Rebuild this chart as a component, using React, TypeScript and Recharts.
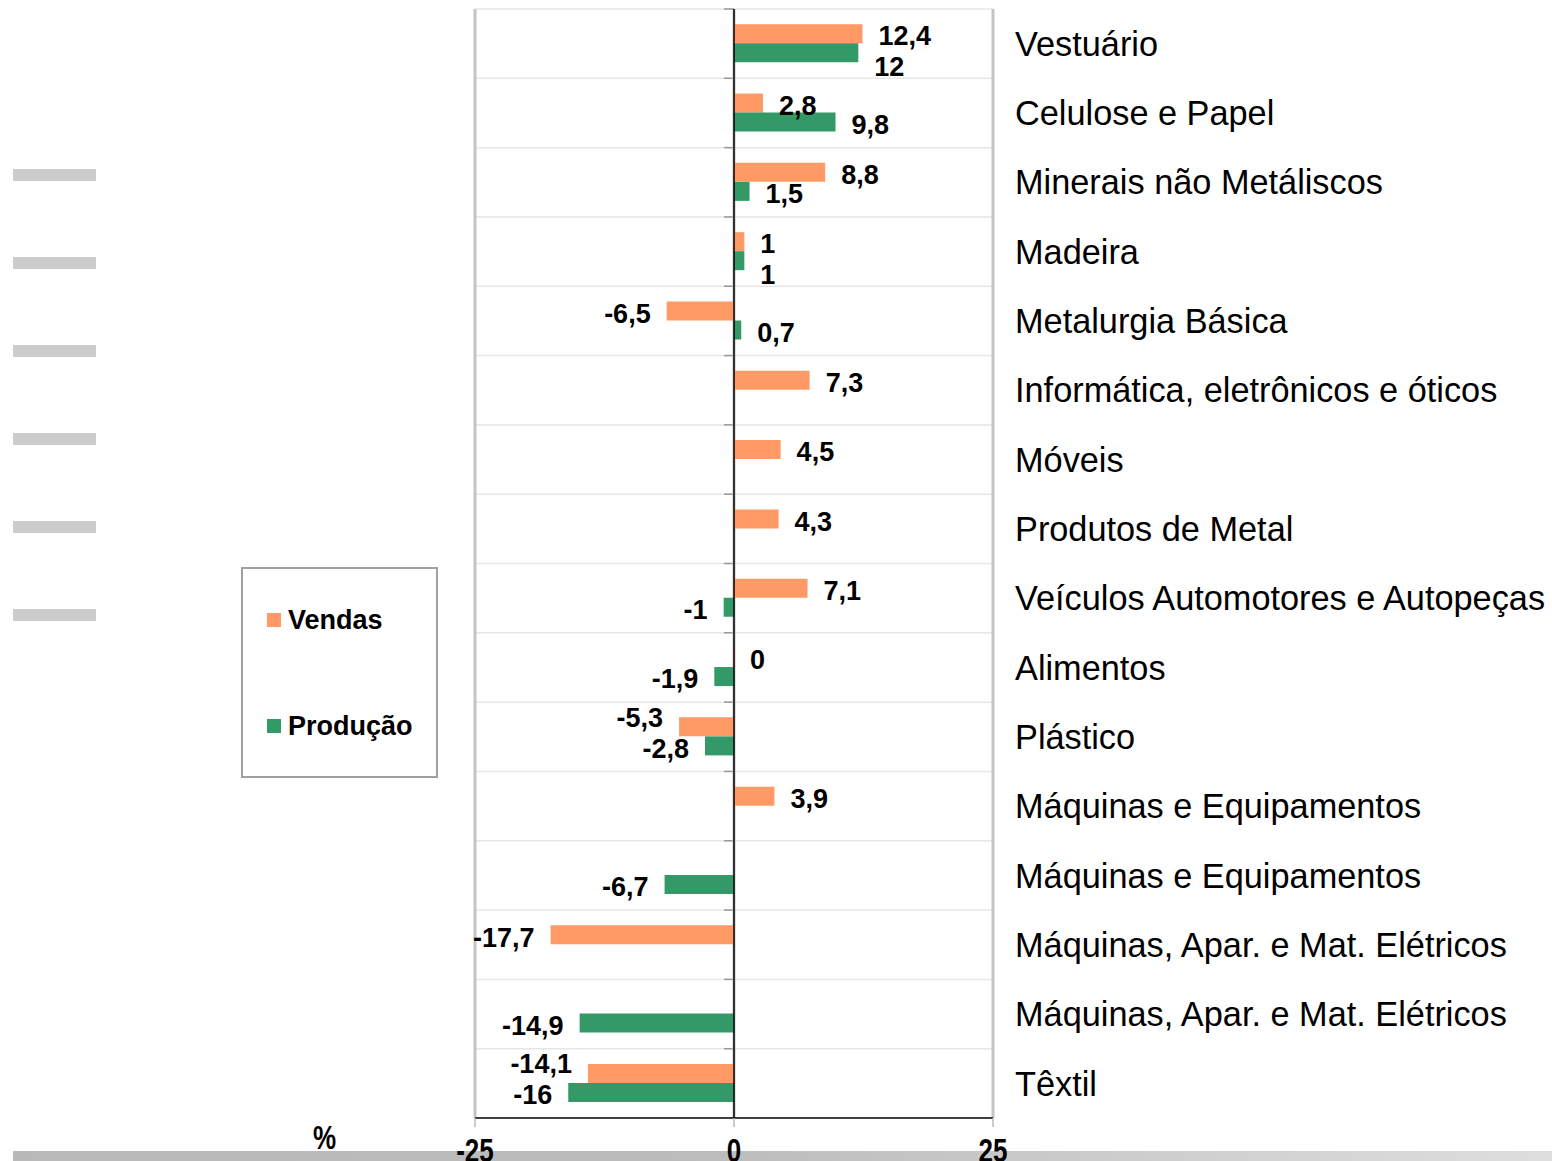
import React from 'react'
import { BarChart, Bar, XAxis, YAxis, CartesianGrid, ReferenceLine, LabelList } from 'recharts'

const categories = [
  'Vestuário',
  'Celulose e Papel',
  'Minerais não Metáliscos',
  'Madeira',
  'Metalurgia Básica',
  'Informática, eletrônicos e óticos',
  'Móveis',
  'Produtos de Metal',
  'Veículos Automotores e Autopeças',
  'Alimentos',
  'Plástico',
  'Máquinas e Equipamentos',
  'Máquinas e Equipamentos',
  'Máquinas, Apar. e Mat. Elétricos',
  'Máquinas, Apar. e Mat. Elétricos',
  'Têxtil',
]

const vendas = [12.4, 2.8, 8.8, 1, -6.5, 7.3, 4.5, 4.3, 7.1, 0, -5.3, 3.9, null, -17.7, null, -14.1]
const producao = [12, 9.8, 1.5, 1, 0.7, null, null, null, -1, -1.9, -2.8, null, -6.7, null, -14.9, -16]

const xTicks = [-25, 0, 25]
const X_MIN = -25
const X_MAX = 25

const series = [
  { key: 'vendas', name: 'Vendas', color: '#FF9966', values: vendas },
  { key: 'producao', name: 'Produção', color: '#339966', values: producao },
]

const fmt = (v: number | null) => (v === null ? null : String(v).replace('.', ','))

const data = categories.map((name, i) => ({
  id: `c${i}`,
  name,
  vendas: vendas[i],
  producao: producao[i],
  vendasLabel: fmt(vendas[i]),
  producaoLabel: fmt(producao[i]),
}))

const FONT = '"Liberation Sans", Arial, sans-serif'
const LABEL_SIZE = 27
const LABEL_GAP = 16

const CHART_W = 1552
const CHART_H = 1161
const MARGIN_TOP = 9
const MARGIN_LEFT = 475
const X_AXIS_H = 43
const Y_AXIS_W = 559
const PX_PER_UNIT = (CHART_W - MARGIN_LEFT - Y_AXIS_W) / (X_MAX - X_MIN)
const BAND_H = (CHART_H - MARGIN_TOP - X_AXIS_H) / categories.length

let ctx: CanvasRenderingContext2D | null = null
function textWidth(s: string) {
  if (!ctx) ctx = document.createElement('canvas').getContext('2d')
  if (!ctx) return s.length * LABEL_SIZE * 0.55
  ctx.font = `bold ${LABEL_SIZE}px ${FONT}`
  return ctx.measureText(s).width
}

function labelSpan(v: number) {
  const w = textWidth(fmt(v) as string)
  const end = v * PX_PER_UNIT
  return v < 0 ? [end - LABEL_GAP - w, end - LABEL_GAP] : [end + LABEL_GAP, end + LABEL_GAP + w]
}

// nudge one label of a row away from the other when both labels would collide
function labelShift(i: number, key: string) {
  const a = vendas[i]
  const b = producao[i]
  if (a == null || b == null) return 0
  if (a < 0 !== b < 0) return 0
  const [a0, a1] = labelSpan(a)
  const [b0, b1] = labelSpan(b)
  const overlap = a0 < b1 + 4 && b0 < a1 + 4
  if (!overlap) return 0
  if (a >= 0) return key === 'producao' ? 12 : 0
  return key === 'vendas' ? -12 : 0
}

function ValueLabel(props: any) {
  const { value, sKey } = props
  if (value === null || value === undefined) return null
  const vb = props.viewBox || {}
  const x = props.x ?? vb.x
  const y = props.y ?? vb.y
  const width = props.width ?? vb.width ?? 0
  const height = props.height ?? vb.height ?? 0
  const left = Math.min(x, x + width)
  const right = Math.max(x, x + width)
  const neg = String(value).startsWith('-')
  const cy = y + height / 2
  const row = Math.floor((cy - MARGIN_TOP) / BAND_H)
  const zeroBar = value === '0'
  return (
    <text
      x={neg ? left - LABEL_GAP : (zeroBar ? left : right) + LABEL_GAP}
      y={cy + 2 + labelShift(row, sKey)}
      dy="0.36em"
      textAnchor={neg ? 'end' : 'start'}
      fontSize={LABEL_SIZE}
      fontWeight="bold"
      fontFamily={FONT}
      fill="#000"
    >
      {value}
    </text>
  )
}

function XTick({ x, y, payload }: any) {
  return (
    <g transform={`translate(${x},${y})`}>
      <text
        x={0}
        y={0}
        dy="0.71em"
        textAnchor="middle"
        fontSize={26}
        fontWeight="bold"
        fontFamily={FONT}
        fill="#000"
        transform="scale(1,1.25)"
      >
        {payload.value}
      </text>
    </g>
  )
}

const bandLines = ({ offset }: any) =>
  categories.map((_, i) => offset.top + (i * offset.height) / categories.length)

export default function App() {
  return (
    <div style={{ position: 'absolute', left: 0, top: 0, width: CHART_W, height: CHART_H, background: '#fff', overflow: 'hidden' }}>
      {/* decorative stubs on the left */}
      {Array.from({ length: 6 }, (_, i) => (
        <div
          key={i}
          style={{ position: 'absolute', left: 13, top: 169 + i * 88, width: 83, height: 12, background: '#cccccc' }}
        />
      ))}
      <div
        style={{
          position: 'absolute',
          left: 13,
          top: 1151,
          width: 1539,
          height: 10,
          background: 'linear-gradient(to right, #b9b9b9 0%, #bcbcbc 45%, #dedede 100%)',
        }}
      />

      <BarChart
        width={CHART_W}
        height={CHART_H}
        data={data}
        layout="vertical"
        margin={{ top: MARGIN_TOP, right: 0, bottom: 0, left: MARGIN_LEFT }}
        barCategoryGap="22%"
        barGap={0}
        style={{ position: 'absolute', left: 0, top: 0 }}
      >
        <CartesianGrid vertical={false} stroke="#e6e6e6" strokeWidth={1.5} horizontalCoordinatesGenerator={bandLines} />
        <CartesianGrid
          x={724}
          width={10}
          vertical={false}
          stroke="#999"
          strokeWidth={1.5}
          horizontalCoordinatesGenerator={bandLines}
        />
        <CartesianGrid horizontal={false} stroke="#c4c4c4" strokeWidth={3} />
        <XAxis
          type="number"
          domain={[X_MIN, X_MAX]}
          ticks={xTicks}
          height={X_AXIS_H}
          axisLine={{ stroke: '#000', strokeWidth: 1.5 }}
          tickLine={{ stroke: '#bbb', strokeWidth: 1.5 }}
          tickSize={9}
          tickMargin={12}
          tick={<XTick />}
          interval={0}
        />
        <YAxis
          type="category"
          dataKey="id"
          orientation="right"
          width={Y_AXIS_W}
          axisLine={false}
          tickLine={false}
          tickSize={0}
          tickMargin={22}
          interval={0}
          tickFormatter={(_: any, i: number) => categories[i]}
          tick={{ fontSize: 34.3, fontFamily: FONT, fill: '#000', textAnchor: 'start' }}
        />
        {series.map((s) => (
          <Bar
            key={s.key}
            dataKey={s.key}
            name={s.name}
            fill={s.color}
            minPointSize={(v: number) => (v === 0 ? 1 : 0)}
            isAnimationActive={false}
          >
            <LabelList dataKey={`${s.key}Label`} content={<ValueLabel sKey={s.key} />} />
          </Bar>
        ))}
        <ReferenceLine x={0} stroke="#000" strokeWidth={1.5} />
      </BarChart>

      {/* legend */}
      <div
        style={{
          position: 'absolute',
          left: 241,
          top: 567,
          width: 193,
          height: 207,
          border: '2px solid #a0a0a0',
          background: '#fff',
        }}
      >
        {series.map((s, i) => (
          <div
            key={s.key}
            style={{
              position: 'absolute',
              left: 24,
              top: 37 + i * 106,
              height: 28,
              display: 'flex',
              alignItems: 'center',
              fontFamily: FONT,
              fontWeight: 'bold',
              fontSize: 27,
              lineHeight: '28px',
              whiteSpace: 'nowrap',
            }}
          >
            <span style={{ display: 'inline-block', width: 14, height: 14, background: s.color, marginRight: 7 }} />
            {s.name}
          </div>
        ))}
      </div>

      <div
        style={{
          position: 'absolute',
          left: 313,
          top: 1121,
          fontFamily: FONT,
          fontWeight: 'bold',
          fontSize: 26,
          lineHeight: '26px',
          transform: 'scale(1,1.25)',
          transformOrigin: 'top left',
        }}
      >
        %
      </div>
    </div>
  )
}
